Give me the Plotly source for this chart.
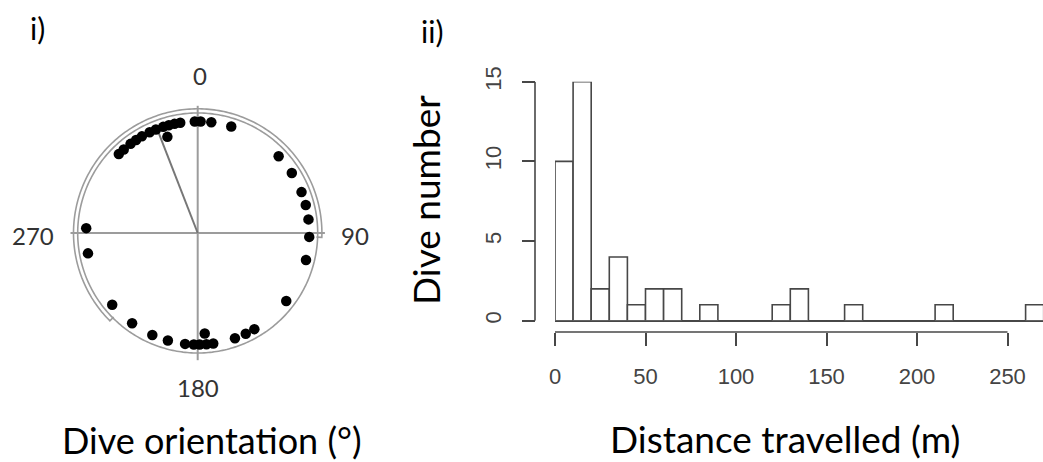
import numpy as np
import plotly.graph_objects as go

# ---------------- data ----------------
# i) dive orientations (degrees, clockwise from north) and their stacking radius
orient_deg = [315, 318.5, 323, 326.5, 330, 334.5, 338, 342, 345, 348, 351, 342.5,
              358.5, 1.5, 7, 17.5, 46.5, 57.5, 68.5, 75.5, 83, 92, 104, 127.5,
              149.5, 154.5, 160.5, 176, 172, 175.5, 179, 182, 186.5, 195.5, 204,
              216, 230, 259.5, 272.5]
orient_r = [0.93, 0.93, 0.93, 0.93, 0.93, 0.93, 0.93, 0.93, 0.93, 0.93, 0.93, 0.84,
            0.93, 0.93, 0.93, 0.93, 0.93, 0.93, 0.93, 0.93, 0.93, 0.93, 0.93, 0.93,
            0.93, 0.93, 0.93, 0.84, 0.93, 0.93, 0.93, 0.93, 0.93, 0.93, 0.93,
            0.93, 0.93, 0.93, 0.93]
mean_dir_deg = 338.7
mean_len = 0.90
arc_deg = [225, 452]            # outer arc extent (from 225 deg clockwise to 92 deg)
compass_labels = ["0", "90", "180", "270"]

# ii) histogram of distance travelled
bin_edges = list(range(0, 280, 10))
counts = [10, 15, 2, 4, 1, 2, 2, 0, 1, 0, 0, 0, 1, 2, 0, 0, 1, 0, 0, 0, 0, 1, 0, 0, 0, 0, 1]
x_ticks = [0, 50, 100, 150, 200, 250]
y_ticks = [0, 5, 10, 15]

W, H = 1043, 462
def px(x):
    return x / W
def py(y):
    return 1 - y / H

GRID = "#9c9c9c"
DARK = "#474747"

fig = go.Figure()

# ---------- circular plot ----------
circ = np.linspace(0, 360, 361)
fig.add_trace(go.Scatterpolar(r=np.ones_like(circ), theta=circ, mode="lines",
                              line=dict(color=GRID, width=1.6), subplot="polar",
                              hoverinfo="skip"))
arc = np.linspace(arc_deg[0], arc_deg[1], 200)
arc_r = np.full_like(arc, 1.035)
arc_theta = np.concatenate([[arc_deg[0]], arc, [arc_deg[1]]])
arc_rr = np.concatenate([[0.99], arc_r, [0.99]])
fig.add_trace(go.Scatterpolar(r=arc_rr, theta=arc_theta, mode="lines",
                              line=dict(color=GRID, width=1.6), subplot="polar",
                              hoverinfo="skip"))
fig.add_trace(go.Scatterpolar(r=[0, mean_len], theta=[mean_dir_deg, mean_dir_deg],
                              mode="lines", line=dict(color="#777777", width=2),
                              subplot="polar"))
fig.add_trace(go.Scatterpolar(r=orient_r, theta=orient_deg, mode="markers",
                              marker=dict(color="black", size=10.5), subplot="polar"))

R_px = 127.2
cx, cy = 197.7, 233
fig.update_layout(
    polar=dict(
        domain=dict(x=[px(cx - R_px), px(cx + R_px)], y=[py(cy + R_px), py(cy - R_px)]),
        bgcolor="white",
        radialaxis=dict(visible=False, range=[0, 1.06], autorange=False),
        angularaxis=dict(rotation=90, direction="clockwise", showline=False,
                         showticklabels=False, ticks="", showgrid=True,
                         gridcolor=GRID, gridwidth=1.5,
                         tickmode="array", tickvals=[0, 90, 180, 270]),
    )
)

# ---------- histogram ----------
centers = [(a + b) / 2 for a, b in zip(bin_edges[:-1], bin_edges[1:])]
widths = [b - a for a, b in zip(bin_edges[:-1], bin_edges[1:])]
fig.add_trace(go.Bar(x=centers, y=counts, width=widths, xaxis="x2", yaxis="y2",
                     marker=dict(color="white", line=dict(color=DARK, width=1.6)),
                     cliponaxis=False))

x0_px, ppu_x = 555, 1.81
y0_px, ppu_y = 320.7, 15.93
fig.update_layout(
    xaxis2=dict(domain=[px(x0_px), 1.0], range=[0, (W - x0_px) / ppu_x],
                anchor="free", position=py(332), showline=False, showgrid=False,
                zeroline=False, ticks="outside", ticklen=13, tickwidth=1.6,
                tickcolor=DARK, tickvals=x_ticks, ticklabelstandoff=12,
                tickfont=dict(family="Liberation Sans", size=22, color="#444444")),
    yaxis2=dict(domain=[py(y0_px), py(y0_px - 15 * ppu_y)], range=[0, 15],
                anchor="free", position=px(535), showline=False, showgrid=False,
                zeroline=True, zerolinecolor=DARK, zerolinewidth=1.6,
                ticks="outside", ticklen=13, tickwidth=1.6, tickcolor=DARK,
                tickvals=y_ticks, tickangle=-90, ticklabelstandoff=12,
                tickfont=dict(family="Liberation Sans", size=22, color="#444444")),
)
# R-style axis lines spanning only the tick range
fig.add_shape(type="line", xref="x2", yref="paper", x0=x_ticks[0], x1=x_ticks[-1],
              y0=py(332), y1=py(332), line=dict(color=DARK, width=1.6))
fig.add_shape(type="line", xref="paper", yref="y2", x0=px(535), x1=px(535),
              y0=y_ticks[0], y1=y_ticks[-1], line=dict(color=DARK, width=1.6))

# ---------- text ----------
FONT = "Lato"
ann = []
label_pos = [(200, 75), (355, 235), (198, 387), (32.5, 235)]
for t, (x, y) in zip(compass_labels, label_pos):
    ann.append(dict(text=t, x=px(x), y=py(y), font=dict(size=24, color="#333333", family=FONT)))
ann += [
    dict(text="Dive orientation (°)", x=px(212), y=py(440), font=dict(size=36, color="black", family=FONT)),
    dict(text="i)", x=px(37), y=py(28), font=dict(size=30, color="black", family=FONT)),
    dict(text="ii)", x=px(432), y=py(31), font=dict(size=30, color="black", family=FONT)),
    dict(text="Dive number", x=px(425), y=py(200), textangle=-90, font=dict(size=37, color="black", family=FONT)),
    dict(text="Distance travelled (m)", x=px(785), y=py(438), font=dict(size=37, color="black", family=FONT)),
]
for a in ann:
    a.update(xref="paper", yref="paper", showarrow=False, xanchor="center", yanchor="middle")

fig.update_layout(width=W, height=H, margin=dict(l=0, r=0, t=0, b=0, autoexpand=False),
                  autosize=False,
                  paper_bgcolor="white", plot_bgcolor="white", showlegend=False,
                  annotations=ann,
                  xaxis=dict(visible=False), yaxis=dict(visible=False))

fig.write_html("out.html", config={"responsive": False, "displayModeBar": False},
               post_script="document.body.style.margin='0';document.body.style.padding='0';"
                           "document.documentElement.style.overflow='hidden';")
